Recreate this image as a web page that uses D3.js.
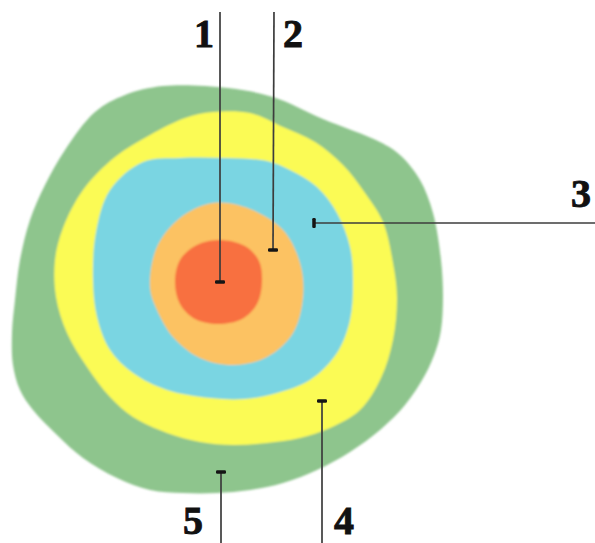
<!DOCTYPE html>
<html>
<head>
<meta charset="utf-8">
<script src="https://cdn.jsdelivr.net/npm/d3@7"></script>
<style>
  html, body { margin: 0; padding: 0; background: #fff; }
  svg { display: block; }
</style>
</head>
<body>
<svg id="chart" width="595" height="543"></svg>
<script>
// outlines of each zone, outermost first (picture units)
const zone5 = [[95,112],[125,95],[163,86],[228,88],[273,97],[323,119],[380,142],[400,155],[420,180],[433,213],[441,260],[443,297],[441,330],[436,350],[425,375],[405,405],[380,430],[350,452],[317,470],[283,483],[250,490],[217,493],[183,493],[150,490],[117,478],[83,458],[57,435],[33,410],[20,390],[13,365],[12,333],[15,300],[20,260],[30,220],[45,185],[65,150]];
const zone4 = [[150,135],[185,118],[213,112],[250,113],[283,127],[315,142],[343,165],[365,193],[383,222],[393,263],[397,297],[393,340],[381,378],[360,410],[330,428],[300,438],[267,443],[233,445],[200,442],[167,433],[133,417],[110,397],[87,367],[67,333],[56,297],[55,260],[63,228],[83,190],[115,157]];
const zone3 = [[143,162],[180,158],[225,158],[267,161],[290,170],[317,187],[337,213],[350,247],[353,280],[350,320],[337,353],[310,380],[277,393],[245,399],[210,398],[167,390],[133,373],[110,350],[97,317],[93,280],[96,232],[110,190]];
const zone2 = [[213,203],[250,209],[283,230],[300,263],[303,297],[293,333],[267,357],[233,365],[200,358],[173,337],[157,310],[150,287],[157,247],[180,218]];
const zone1 = [[218,240],[245,246],[259,261],[262,282],[257,304],[242,319],[218,324],[195,319],[180,304],[175,282],[180,260],[195,246]];

const zones = [zone5, zone4, zone3, zone2, zone1];
const zoneColors = ["#8ec58d", "#fbfb55", "#7ad5e2", "#fcc262", "#f8703f"];

// callouts: label, point inside the zone, where the leader ends
const labels = ["1", "2", "3", "4", "5"];
const pins = [[220,282],[273,250],[314,223],[322,401],[221,472]];
const ends = [[220,12],[274,12],[595,223],[322,543],[221,543]];

const svg = d3.select("#chart");
const width = 595, height = 543;

let x = d3.scaleLinear().domain([0, 595]).range([0, width]);
let y = d3.scaleLinear().domain([0, 543]).range([0, height]);

const defs = svg.append("defs");
defs.append("filter").attr("id", "soft")
  .append("feGaussianBlur").attr("stdDeviation", 0.8);

let blob = d3.line()
  .x(d => x(d[0]))
  .y(d => y(d[1]))
  .curve(d3.curveCatmullRomClosed.alpha(0.5));

svg.append("g")
  .attr("filter", "url(#soft)")
  .selectAll("path")
  .data(zones)
  .join("path")
  .attr("d", blob)
  .attr("fill", (d, i) => zoneColors[i]);

// leader lines
svg.append("g")
  .selectAll("line")
  .data(labels)
  .join("line")
  .attr("x1", (d, i) => x(pins[i][0]))
  .attr("y1", (d, i) => y(pins[i][1]))
  .attr("x2", (d, i) => x(ends[i][0]))
  .attr("y2", (d, i) => y(ends[i][1]))
  .attr("stroke", "#3c3c3c")
  .attr("stroke-width", 1.7);

// little dash at the inner end of each leader
const flat = i => ends[i][1] === pins[i][1];
svg.append("g")
  .selectAll("rect")
  .data(labels)
  .join("rect")
  .attr("x", (d, i) => flat(i) ? x(pins[i][0]) - 1.75 : x(pins[i][0]) - 5)
  .attr("y", (d, i) => flat(i) ? y(pins[i][1]) - 5 : y(pins[i][1]) - 1.75)
  .attr("width", (d, i) => flat(i) ? 3.5 : 10)
  .attr("height", (d, i) => flat(i) ? 10 : 3.5)
  .attr("rx", 1.2)
  .attr("fill", "#151515");

// numbers, placed beside the outer end of each leader
const place = [
  { dx: -6, dy: 35, anchor: "end" },
  { dx: 9, dy: 35, anchor: "start" },
  { dx: -4, dy: -16, anchor: "end" },
  { dx: 12, dy: -9, anchor: "start" },
  { dx: -18, dy: -9, anchor: "end" }
];

svg.append("g")
  .selectAll("text")
  .data(labels)
  .join("text")
  .attr("font-family", "'Liberation Serif', 'Times New Roman', Tinos, serif")
  .attr("font-weight", "bold")
  .attr("font-size", 40)
  .attr("fill", "#111")
  .attr("stroke", "#111")
  .attr("stroke-width", 0.9)
  .attr("x", (d, i) => x(ends[i][0]) + place[i].dx)
  .attr("y", (d, i) => y(ends[i][1]) + place[i].dy)
  .attr("text-anchor", (d, i) => place[i].anchor)
  .text(d => d);
</script>
</body>
</html>
